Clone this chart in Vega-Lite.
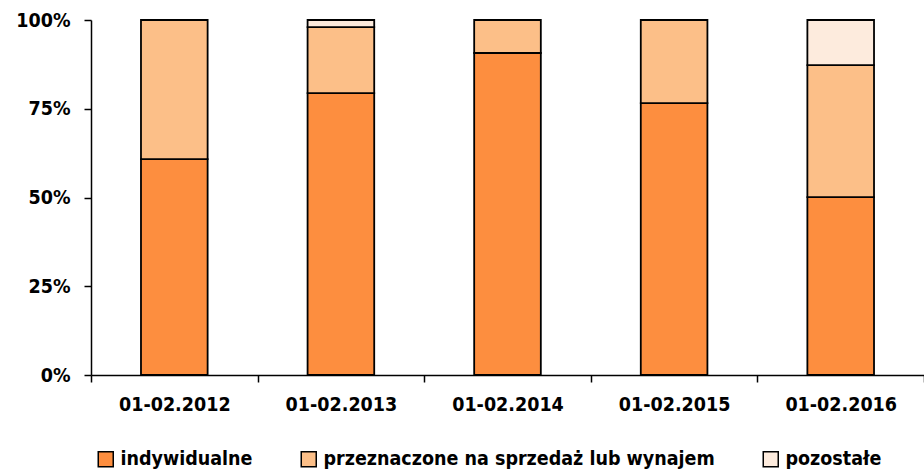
{
  "$schema": "https://vega.github.io/schema/vega-lite/v6.json",
  "width": 833,
  "height": 355,
  "autosize": {"type": "none"},
  "padding": {"left": 91, "top": 20, "right": 0, "bottom": 94},
  "background": "white",
  "config": {
    "view": {"stroke": null},
    "font": "DejaVu Sans Condensed"
  },
  "data": {
    "values": [
      {"okres": "01-02.2012", "kategoria": "indywidualne", "k": 1, "udzial": 60.8},
      {"okres": "01-02.2012", "kategoria": "przeznaczone na sprzedaż lub wynajem", "k": 2, "udzial": 39.2},
      {"okres": "01-02.2012", "kategoria": "pozostałe", "k": 3, "udzial": 0},
      {"okres": "01-02.2013", "kategoria": "indywidualne", "k": 1, "udzial": 79.4},
      {"okres": "01-02.2013", "kategoria": "przeznaczone na sprzedaż lub wynajem", "k": 2, "udzial": 18.6},
      {"okres": "01-02.2013", "kategoria": "pozostałe", "k": 3, "udzial": 2.0},
      {"okres": "01-02.2014", "kategoria": "indywidualne", "k": 1, "udzial": 90.7},
      {"okres": "01-02.2014", "kategoria": "przeznaczone na sprzedaż lub wynajem", "k": 2, "udzial": 9.3},
      {"okres": "01-02.2014", "kategoria": "pozostałe", "k": 3, "udzial": 0},
      {"okres": "01-02.2015", "kategoria": "indywidualne", "k": 1, "udzial": 76.6},
      {"okres": "01-02.2015", "kategoria": "przeznaczone na sprzedaż lub wynajem", "k": 2, "udzial": 23.4},
      {"okres": "01-02.2015", "kategoria": "pozostałe", "k": 3, "udzial": 0},
      {"okres": "01-02.2016", "kategoria": "indywidualne", "k": 1, "udzial": 50.1},
      {"okres": "01-02.2016", "kategoria": "przeznaczone na sprzedaż lub wynajem", "k": 2, "udzial": 37.2},
      {"okres": "01-02.2016", "kategoria": "pozostałe", "k": 3, "udzial": 12.7}
    ]
  },
  "mark": {"type": "bar", "stroke": "black", "strokeWidth": 1.8, "width": {"band": 0.4}},
  "encoding": {
    "x": {
      "field": "okres",
      "type": "nominal",
      "sort": null,
      "scale": {"paddingInner": 0, "paddingOuter": 0},
      "axis": {
        "title": null,
        "labelAngle": 0,
        "tickBand": "extent",
        "domainColor": "black",
        "domainWidth": 1.5,
        "tickColor": "black",
        "tickWidth": 1.5,
        "tickSize": 7,
        "labelPadding": 13,
        "labelFont": "DejaVu Sans Condensed",
        "labelFontWeight": "bold",
        "labelFontSize": 19.5,
        "labelColor": "black"
      }
    },
    "y": {
      "field": "udzial",
      "type": "quantitative",
      "stack": "normalize",
      "scale": {"domain": [0, 1], "nice": false},
      "axis": {
        "title": null,
        "values": [0, 0.25, 0.5, 0.75, 1],
        "format": ".0%",
        "grid": false,
        "domainColor": "black",
        "domainWidth": 1.5,
        "tickColor": "black",
        "tickWidth": 1.5,
        "tickSize": 7,
        "labelPadding": 14,
        "labelFont": "DejaVu Sans Condensed",
        "labelFontWeight": "bold",
        "labelFontSize": 19.5,
        "labelColor": "black"
      }
    },
    "color": {
      "field": "kategoria",
      "type": "nominal",
      "scale": {
        "domain": ["indywidualne", "przeznaczone na sprzedaż lub wynajem", "pozostałe"],
        "range": ["#FD8E3F", "#FCBF88", "#FDEBDD"]
      },
      "legend": {
        "title": null,
        "orient": "none",
        "legendX": 5,
        "legendY": 429,
        "direction": "horizontal",
        "symbolType": "square",
        "symbolSize": 225,
        "symbolStrokeColor": "black",
        "symbolStrokeWidth": 1.5,
        "symbolOpacity": 1,
        "labelFont": "DejaVu Sans Condensed",
        "labelFontWeight": "bold",
        "labelFontSize": 19.5,
        "labelColor": "black",
        "labelLimit": 0,
        "labelOffset": 5,
        "columnPadding": 45
      }
    },
    "order": {"field": "k", "type": "quantitative"}
  }
}
